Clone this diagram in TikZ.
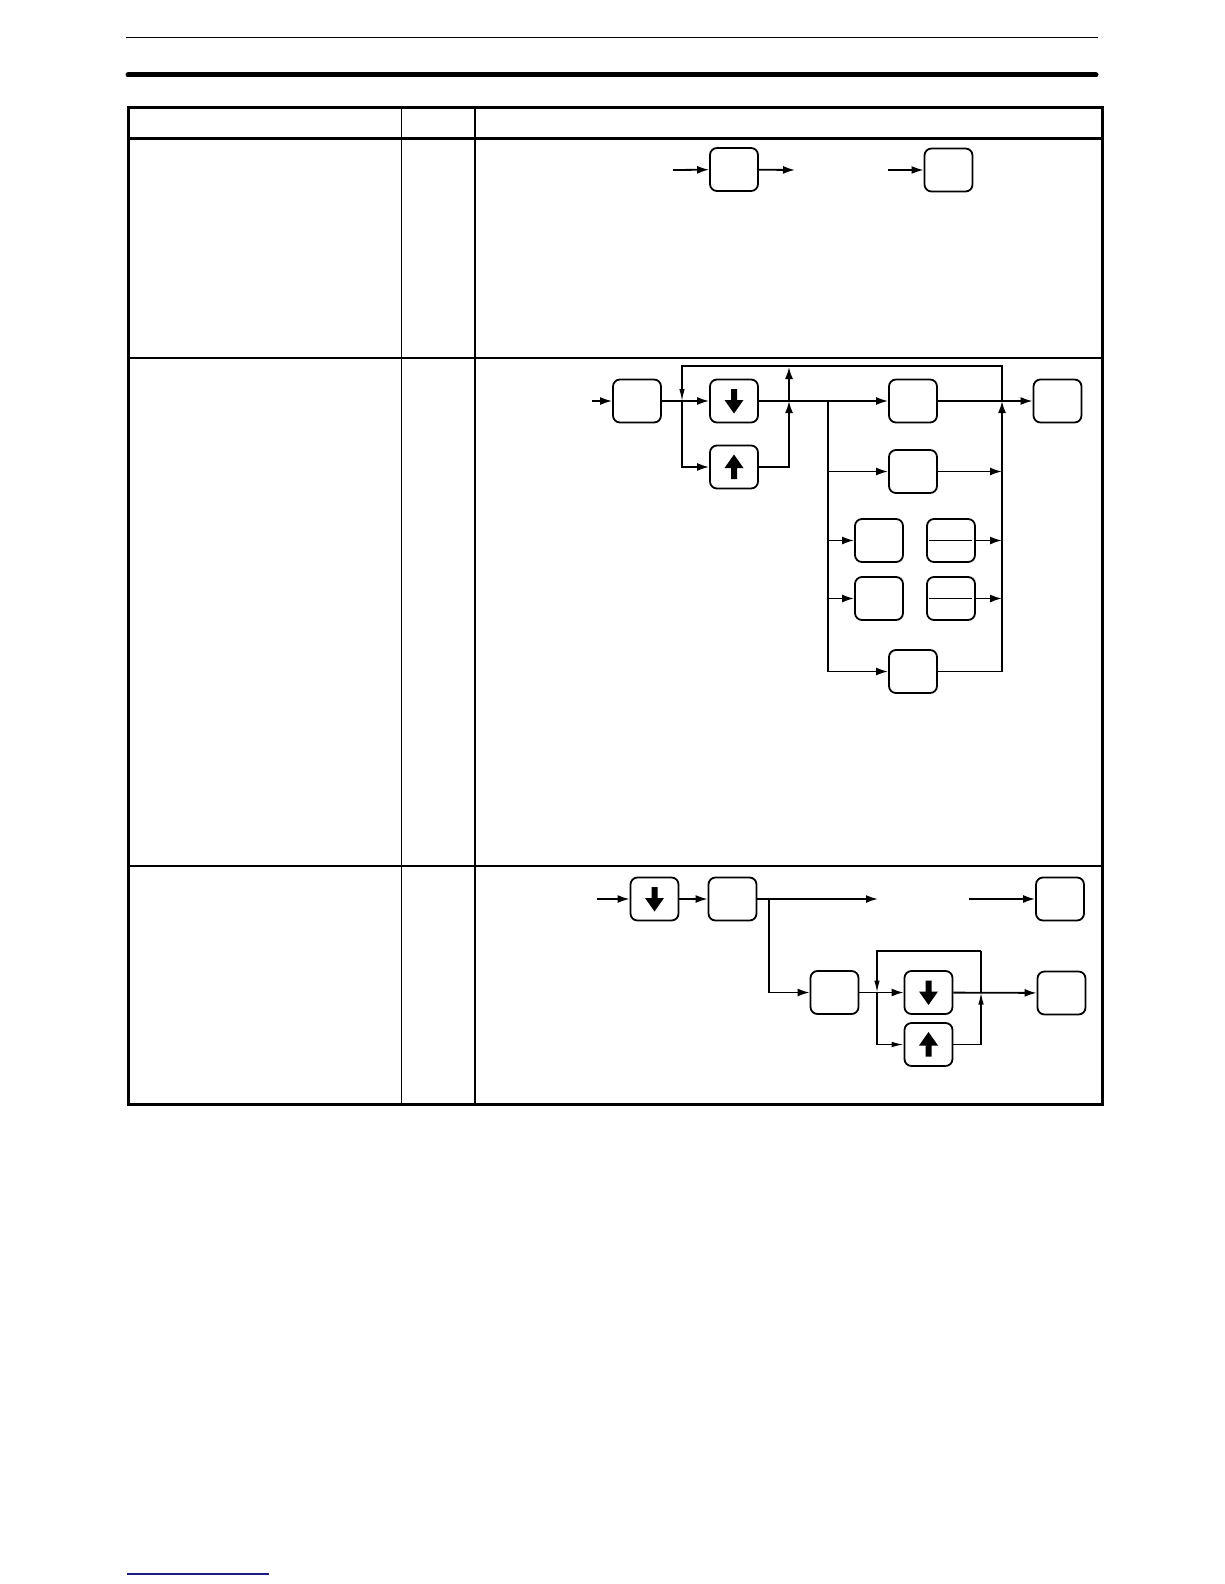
\documentclass[tikz,border=0pt]{standalone}
\usetikzlibrary{arrows.meta}
\definecolor{ink}{HTML}{000000}
\definecolor{navy}{HTML}{1C1C8A}

\begin{document}
\begin{tikzpicture}[x=1pt,y=-1pt,>={Latex[length=12pt,width=8pt]},
  keybox/.style={draw=ink,line width=1.8pt,rounded corners=7pt,
    minimum width=48pt,minimum height=43pt,inner sep=0pt},
  wire/.style={draw=ink,line width=1.8pt},
  loopwire/.style={draw=ink,line width=1.3pt,>={Latex[length=12pt,width=5.5pt]}}]
  \useasboundingbox (0,0) rectangle (1224,1584);

  % Page rules.
  \draw[ink,line width=1.5pt] (126,37.5) -- (1098,37.5);
  \draw[ink,line width=5pt,line cap=round] (128,75) -- (1096,75);

  % Table frame.
  \draw[ink,line width=3pt] (128,108) rectangle (1102,1104);
  \draw[ink,line width=3pt] (128,138.5) -- (1102,138.5);
  \draw[ink,line width=2pt] (128,357.5) -- (1102,357.5);
  \draw[ink,line width=2pt] (128,865.5) -- (1102,865.5);
  \draw[ink,line width=1pt] (401,108) -- (401,1104);
  \draw[ink,line width=2pt] (474.5,108) -- (474.5,1104);

  % Row 1.
  \node[keybox] (aA) at (734,169.5) {};
  \node[keybox] (aB) at (948.5,170) {};
  \coordinate (aIn) at (673,170);
  \coordinate (aOut) at (795,170);
  \coordinate (aBIn) at (888,170);
  \draw[wire,->] (aIn) -- (aA);
  \draw[wire,->] (aA) -- (aOut);
  \draw[wire,->] (aBIn) -- (aB);

  % Row 2.
  \node[keybox] (bP) at (637,401) {};
  \node[keybox] (bDn) at (734,401) {};
  \node[keybox] (bUp) at (734,467) {};
  \node[keybox] (bQ) at (913,401) {};
  \node[keybox] (bR) at (1057.5,401) {};
  \node[keybox] (bS) at (913,471.5) {};
  \node[keybox] (bT1) at (879,540.5) {};
  \node[keybox] (bT2) at (951,540.5) {};
  \node[keybox] (bU1) at (879,598.5) {};
  \node[keybox] (bU2) at (951,598.5) {};
  \node[keybox] (bV) at (913,671.5) {};
  \draw[ink,line width=1.4pt] ([xshift=3pt]bT2.west) -- ([xshift=-4pt]bT2.east);
  \draw[ink,line width=1.4pt] ([xshift=3pt]bU2.west) -- ([xshift=-4pt]bU2.east);

  \coordinate (bIn) at (592,401);
  \coordinate (bLoopL) at (682,366);
  \coordinate (bLoopR) at (1002,366);
  \coordinate (bUpR) at (789,401);
  \coordinate (bUpTop) at (789,367);
  \coordinate (bJn) at (828,401);
  \coordinate (bRail) at (1002,401);

  \draw[wire,->] (bIn) -- (bP);
  \draw[wire,->] (bP) -- (bDn);
  \draw[loopwire,->] (bRail) -- (bLoopR) -- (bLoopL) -- (bLoopL |- bP);
  \draw[wire,->] (bLoopL |- bP) |- (bUp);
  \draw[wire,->] (bUp) -| (bUpR);
  \draw[wire,->] (bUpR) -- (bUpTop);
  \draw[wire] (bDn) -- (bJn);
  \draw[wire,->] (bJn) -- (bQ);
  \draw[wire,->] (bQ) -- (bR);
  \draw[wire,->] (bJn) |- (bV);
  \draw[wire,->] (bJn |- bS) -- (bS);
  \draw[wire,->] (bJn |- bT1) -- (bT1);
  \draw[wire,->] (bJn |- bU1) -- (bU1);
  \draw[wire,->] (bS) -- (bS -| bRail);
  \draw[wire,->] (bT2) -- (bT2 -| bRail);
  \draw[wire,->] (bU2) -- (bU2 -| bRail);
  \draw[wire,->] (bV) -| (bRail);

  % Row 3.
  \node[keybox] (cDn) at (654.5,899) {};
  \node[keybox] (cE) at (732.5,899) {};
  \node[keybox] (cF) at (834.5,992.5) {};
  \node[keybox] (cG) at (928.5,992.5) {};
  \node[keybox] (cH) at (928.5,1044.5) {};
  \node[keybox] (cI) at (1061.5,993) {};
  \node[keybox] (cJ) at (1060,899) {};

  \coordinate (cIn) at (597,899);
  \coordinate (cOut) at (878,899);
  \coordinate (cJIn) at (969,899);
  \coordinate (cJn) at (769,899);
  \coordinate (cLoopL) at (877,951);
  \coordinate (cLoopR) at (981,951);

  \draw[wire,->] (cIn) -- (cDn);
  \draw[wire,->] (cDn) -- (cE);
  \draw[wire,->] (cE) -- (cOut);
  \draw[wire,->] (cJIn) -- (cJ);
  \draw[wire,->] (cJn) |- (cF);
  \draw[wire,->] (cF) -- (cG);
  \draw[loopwire,->] (cLoopR) -- (cLoopL) -- (cLoopL |- cG);
  \draw[loopwire,->] (cLoopL |- cG) |- (cH);
  \draw[loopwire,->] (cH) -| (cLoopR |- cG);
  \draw[loopwire] (cLoopR |- cG) -- (cLoopR);
  \draw[wire,->] (cG) -- (cI);

  % Arrow keys.
  \foreach \k in {bDn,cDn,cG}
    \fill[ink] ([shift={(-3,-12)}]\k.center) -- ([shift={(3,-12)}]\k.center)
      -- ([shift={(3,-1)}]\k.center) -- ([shift={(9.5,-1)}]\k.center)
      -- ([shift={(0,12.5)}]\k.center) -- ([shift={(-9.5,-1)}]\k.center)
      -- ([shift={(-3,-1)}]\k.center) -- cycle;
  \foreach \k in {bUp,cH}
    \fill[ink] ([shift={(-3,12)}]\k.center) -- ([shift={(3,12)}]\k.center)
      -- ([shift={(3,1)}]\k.center) -- ([shift={(9.5,1)}]\k.center)
      -- ([shift={(0,-12.5)}]\k.center) -- ([shift={(-9.5,1)}]\k.center)
      -- ([shift={(-3,1)}]\k.center) -- cycle;

  % Footer rule.
  \draw[navy,line width=1.5pt] (127,1574) -- (269,1574);
\end{tikzpicture}
\end{document}
